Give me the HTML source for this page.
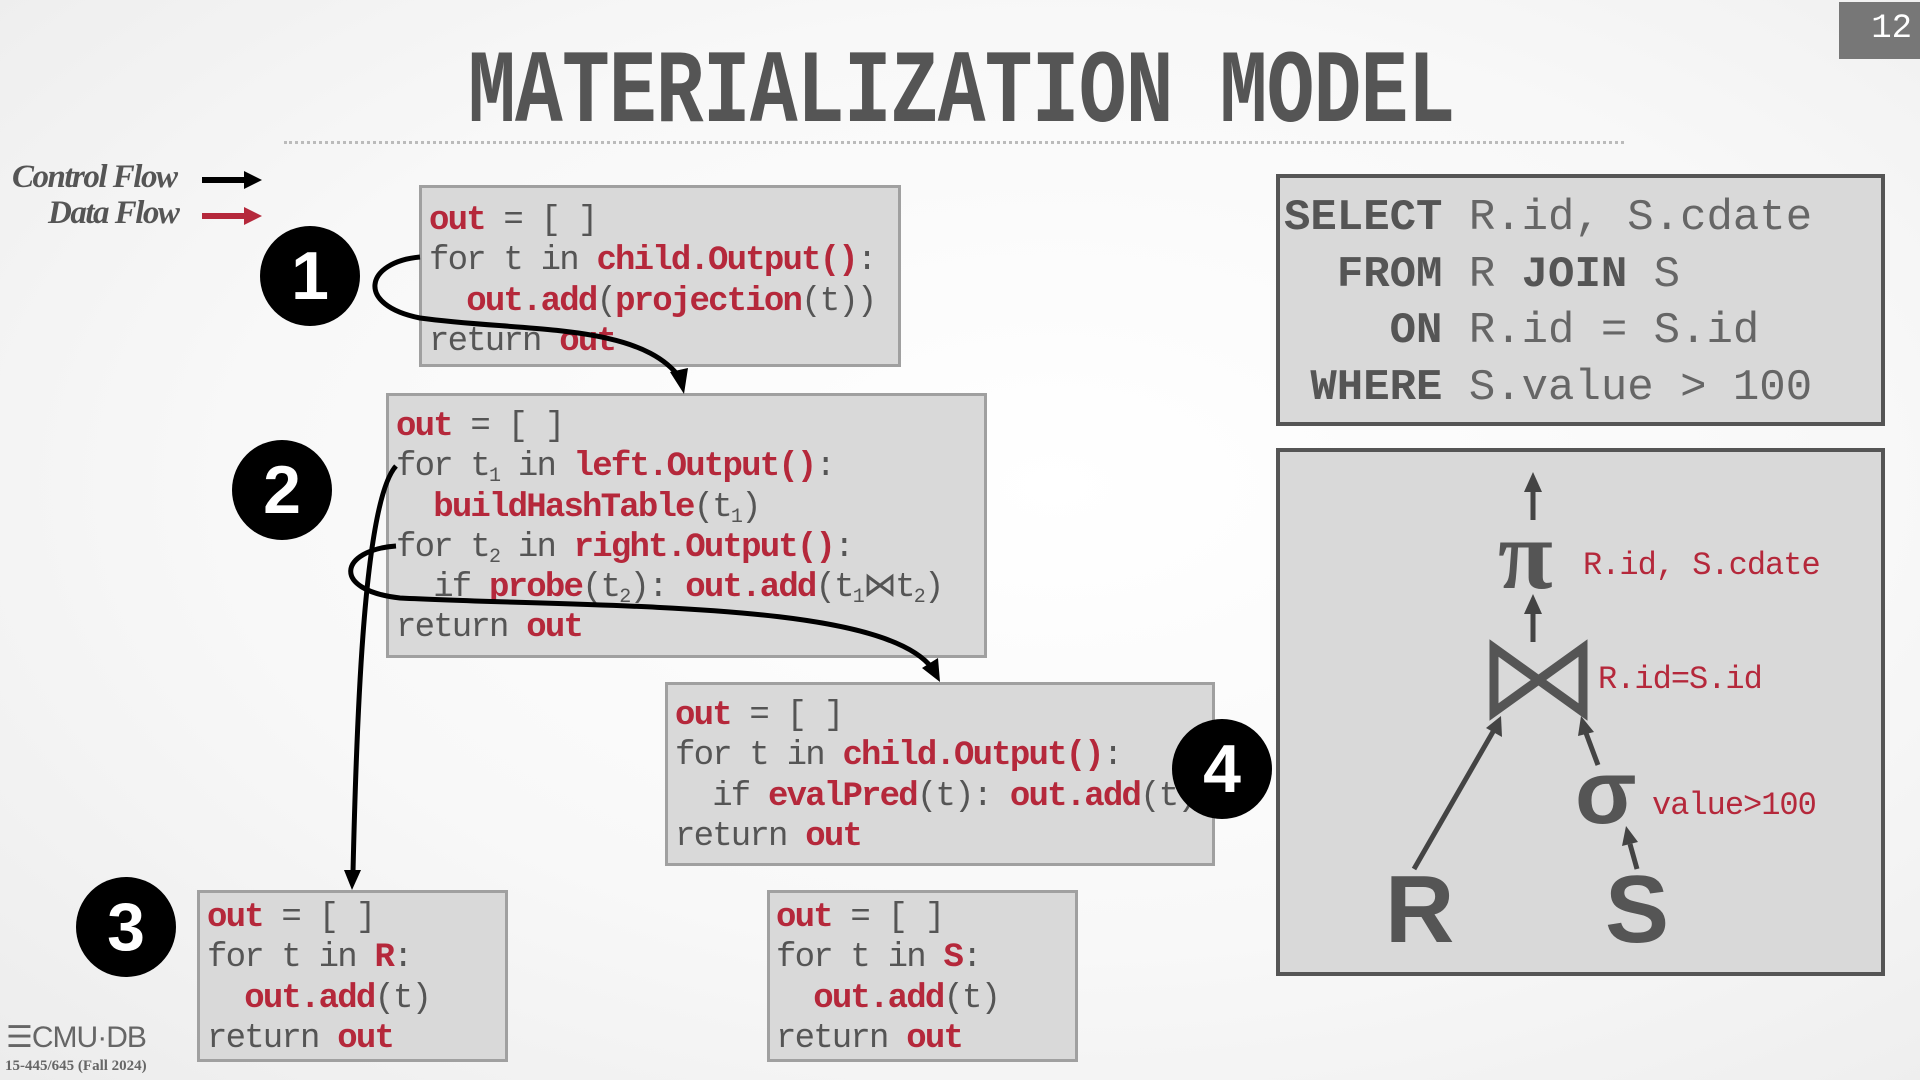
<!DOCTYPE html>
<html><head><meta charset="utf-8"><style>
*{margin:0;padding:0;box-sizing:border-box}
body{width:1920px;height:1080px;overflow:hidden;position:relative;background:radial-gradient(ellipse at 55% 45%,#fff 0%,#f8f8f8 55%,#ececec 100%);font-family:"Liberation Sans",sans-serif}
.title{position:absolute;left:468px;top:42px;width:1266px;font-family:"Liberation Mono",monospace;font-weight:bold;font-size:104px;color:#555;letter-spacing:-1px;transform:scaleX(0.765);transform-origin:left top;white-space:nowrap;line-height:104px}
.dots{position:absolute;left:284px;top:141px;width:1340px;border-top:3px dotted #bbb}
.pg{position:absolute;left:1839px;top:2px;width:81px;height:57px;background:#777;color:#fff;font-family:"Liberation Mono",monospace;font-size:34px;text-align:right;padding:8px 8px 0 0}
.box{position:absolute;background:#d9d9d9;border:3px solid #a0a0a0}
pre{position:absolute;font-family:"Liberation Mono",monospace;font-size:34px;line-height:40.3px;letter-spacing:-1.8px;color:#555;white-space:pre}
.r{color:#b5283b;font-weight:bold}
sub{font-size:20px;vertical-align:-6px;line-height:0}
.c{position:absolute;width:100px;height:100px;border-radius:50%;background:#000;color:#fff;font-weight:bold;font-size:68px;text-align:center;line-height:100px}
.sql{position:absolute;left:1276px;top:174px;width:609px;height:252px;background:#d9d9d9;border:4px solid #555}
.sqlt{position:absolute;left:1284px;top:190px;font-family:"Liberation Mono",monospace;font-size:44px;line-height:56.5px;color:#666;white-space:pre;letter-spacing:0px}
.sqlt b{color:#555}
.tree{position:absolute;left:1276px;top:448px;width:609px;height:528px;background:#d9d9d9;border:4px solid #555}
.lbl{position:absolute;font-family:"Liberation Mono",monospace;font-size:32px;color:#b5283b;white-space:nowrap;letter-spacing:-1px}
.leg{position:absolute;font-family:"Liberation Serif",serif;font-style:italic;font-weight:bold;font-size:33px;color:#555;white-space:nowrap;letter-spacing:-1.5px}
</style></head><body>
<div class="title">MATERIALIZATION MODEL</div>
<div class="dots"></div>
<div class="pg">12</div>

<div class="leg" style="left:12px;top:159px">Control Flow</div>
<div class="leg" style="left:48px;top:195px">Data Flow</div>

<div class="box" style="left:419px;top:185px;width:482px;height:182px"></div>
<pre style="left:429px;top:201px"><span class="r">out</span> = [ ]
for t in <span class="r">child.Output()</span>:
  <span class="r">out.add</span>(<span class="r">projection</span>(t))
return <span class="r">out</span></pre>

<div class="box" style="left:386px;top:393px;width:601px;height:265px"></div>
<pre style="left:396px;top:407px"><span class="r">out</span> = [ ]
for t<sub>1</sub> in <span class="r">left.Output()</span>:
  <span class="r">buildHashTable</span>(t<sub>1</sub>)
for t<sub>2</sub> in <span class="r">right.Output()</span>:
  if <span class="r">probe</span>(t<sub>2</sub>): <span class="r">out.add</span>(t<sub>1</sub>⋈t<sub>2</sub>)
return <span class="r">out</span></pre>

<div class="box" style="left:665px;top:682px;width:550px;height:184px"></div>
<pre style="left:675px;top:696px"><span class="r">out</span> = [ ]
for t in <span class="r">child.Output()</span>:
  if <span class="r">evalPred</span>(t): <span class="r">out.add</span>(t)
return <span class="r">out</span></pre>

<div class="box" style="left:197px;top:890px;width:311px;height:172px"></div>
<pre style="left:207px;top:898px"><span class="r">out</span> = [ ]
for t in <span class="r">R</span>:
  <span class="r">out.add</span>(t)
return <span class="r">out</span></pre>

<div class="box" style="left:767px;top:890px;width:311px;height:172px"></div>
<pre style="left:776px;top:898px"><span class="r">out</span> = [ ]
for t in <span class="r">S</span>:
  <span class="r">out.add</span>(t)
return <span class="r">out</span></pre>

<div class="c" style="left:260px;top:226px">1</div>
<div class="c" style="left:232px;top:440px">2</div>
<div class="c" style="left:76px;top:877px">3</div>
<div class="c" style="left:1172px;top:719px">4</div>

<div class="sql"></div>
<div class="sqlt"><b>SELECT</b> R.id, S.cdate
  <b>FROM</b> R <b>JOIN</b> S
    <b>ON</b> R.id = S.id
 <b>WHERE</b> S.value &gt; 100</div>

<div class="tree"></div>
<div style="position:absolute;left:1498px;top:505px;font-family:'Liberation Serif',serif;font-weight:bold;font-size:100px;color:#555;line-height:100px">π</div>
<div class="lbl" style="left:1583px;top:547px">R.id, S.cdate</div>
<div class="lbl" style="left:1598px;top:661px">R.id=S.id</div>
<div style="position:absolute;left:1575px;top:748px;font-family:'Liberation Sans',sans-serif;font-weight:bold;font-size:90px;color:#555;line-height:90px">σ</div>
<div class="lbl" style="left:1652px;top:787px">value&gt;100</div>
<div style="position:absolute;left:1385px;top:862px;font-family:'Liberation Sans',sans-serif;font-weight:bold;font-size:96px;color:#555;line-height:96px">R</div>
<div style="position:absolute;left:1605px;top:862px;font-family:'Liberation Sans',sans-serif;font-weight:bold;font-size:96px;color:#555;line-height:96px">S</div>

<svg width="1920" height="1080" style="position:absolute;left:0;top:0" xmlns="http://www.w3.org/2000/svg">
<line x1="202" y1="180" x2="246" y2="180" stroke="#000" stroke-width="6"/><path d="M244,171 L262,180 L244,189z" fill="#000"/>
<line x1="202" y1="216" x2="246" y2="216" stroke="#b5283b" stroke-width="6"/><path d="M244,207 L262,216 L244,225z" fill="#b5283b"/>
<g fill="none" stroke="#000" stroke-width="5">
<path d="M420,257 C365,262 355,305 420,318 C520,332 640,322 680,378"/>
<path d="M396,466 C365,500 357,700 353,872"/>
<path d="M396,546 C340,550 330,590 400,598 C600,608 880,600 932,668"/>
</g>
<path d="M670,372 L684,394 L688,368z" fill="#000"/>
<path d="M344,870 L352,890 L361,870z" fill="#000"/>
<path d="M922,668 L940,682 L938,658z" fill="#000"/>
<g stroke="#444" stroke-width="5" fill="none">
<line x1="1533" y1="520" x2="1533" y2="488"/>
<line x1="1533" y1="642" x2="1533" y2="610"/>
<line x1="1414" y1="869" x2="1494" y2="730"/>
<line x1="1598" y1="765" x2="1586" y2="733"/>
<line x1="1637" y1="869" x2="1630" y2="844"/>
</g>
<path d="M1524,492 L1533,472 L1542,492z" fill="#444"/>
<path d="M1524,614 L1533,594 L1542,614z" fill="#444"/>
<path d="M1486,728 L1501,716 L1502,737z" fill="#444"/>
<path d="M1578,736 L1581,716 L1594,732z" fill="#444"/>
<path d="M1622,846 L1626,826 L1638,842z" fill="#444"/>
<path d="M1494,648 L1494,712 L1583,648 L1583,712 Z" fill="none" stroke="#555" stroke-width="9" stroke-linejoin="miter"/>
</svg>

<div style="position:absolute;left:6px;top:1020px;font-family:'Liberation Sans',sans-serif;font-size:30px;color:#666;letter-spacing:-1px">☰CMU·DB</div>
<div style="position:absolute;left:5px;top:1058px;font-family:'Liberation Serif',serif;font-size:15px;font-weight:bold;color:#666">15-445/645 (Fall 2024)</div>
</body></html>
